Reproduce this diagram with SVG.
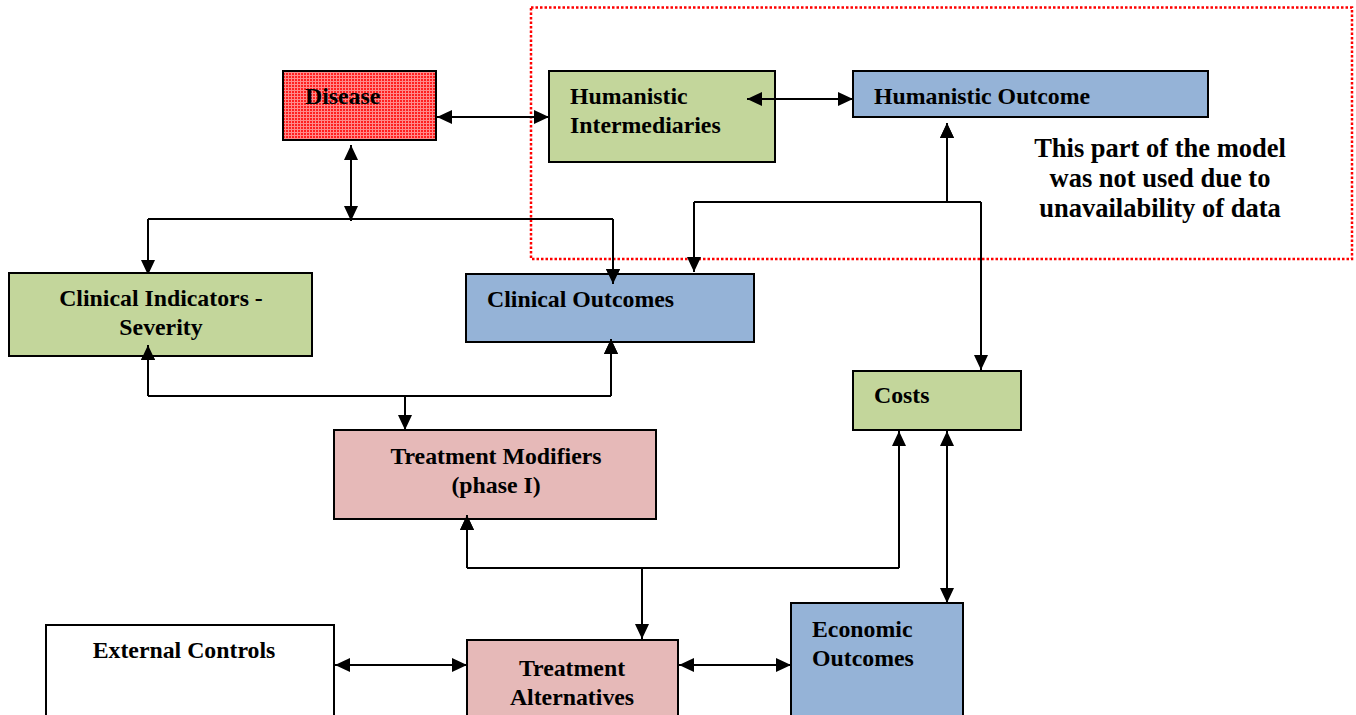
<svg xmlns="http://www.w3.org/2000/svg" width="1356" height="715" viewBox="0 0 1356 715">
  <style>
    .box { stroke: #000; stroke-width: 2; }
    .green { fill: #c3d69b; }
    .blue { fill: #95b3d7; }
    .pink { fill: #e6b9b8; }
    .white { fill: #ffffff; }
    .lbl { font-family: "Liberation Serif", "Times New Roman", serif; font-weight: bold; font-size: 23.8px; fill: #000; }
    .mid { text-anchor: middle; }
    .note { font-family: "Liberation Serif", "Times New Roman", serif; font-weight: bold; font-size: 26.5px; fill: #000; text-anchor: middle; }
    .wire { fill: none; stroke: #000; stroke-width: 2; }
    .one { marker-end: url(#tip); }
    .two { marker-start: url(#tip); marker-end: url(#tip); }
  </style>
  <defs>
    <marker id="tip" viewBox="0 0 15 14" refX="15" refY="7" markerWidth="15" markerHeight="14" markerUnits="userSpaceOnUse" orient="auto-start-reverse">
      <path d="M0,0 L15,7 L0,14 Z" fill="#000"/>
    </marker>
    <!-- red cross-hatched fill for the Disease node -->
    <pattern id="hatch" width="3" height="3" patternUnits="userSpaceOnUse">
      <rect width="3" height="3" fill="#ff1f1f"/>
      <rect width="3" height="1" fill="#ff8a8a"/>
      <rect width="1" height="3" fill="#ff8a8a"/>
    </pattern>
  </defs>

  <!-- dotted frame around the unused part of the model -->
  <rect x="531" y="7.5" width="821" height="251.5" fill="none" stroke="#ff0000" stroke-width="2.5" stroke-dasharray="2.5 2"/>
  <g id="note">
    <text class="note" x="1160" y="157">This part of the model</text>
    <text class="note" x="1160" y="187">was not used due to</text>
    <text class="note" x="1160" y="217">unavailability of data</text>
  </g>

  <!-- connectors -->
  <g id="connectors">
    <line class="wire two" x1="437" y1="117" x2="549" y2="117"/>

    <line class="wire two" x1="351" y1="145" x2="351" y2="221"/>
    <polyline class="wire one" points="148,219 148,275"/>
    <line class="wire" x1="148" y1="219" x2="613" y2="219"/>
    <polyline class="wire one" points="613,219 613,284"/>

    <polyline class="wire one" points="947,202 947,123"/>
    <line class="wire" x1="694" y1="202" x2="981" y2="202"/>
    <polyline class="wire one" points="694,202 694,272"/>
    <polyline class="wire one" points="981,202 981,370"/>

    <polyline class="wire one" points="148,396 148,345"/>
    <line class="wire" x1="148" y1="396" x2="611" y2="396"/>
    <polyline class="wire one" points="611,396 611,339"/>
    <polyline class="wire one" points="405,396 405,430"/>

    <polyline class="wire one" points="467,568 467,515"/>
    <line class="wire" x1="467" y1="568" x2="899" y2="568"/>
    <polyline class="wire one" points="899,568 899,431"/>
    <polyline class="wire one" points="642,568 642,639"/>

    <line class="wire two" x1="947" y1="431" x2="947" y2="603"/>
    <line class="wire two" x1="335" y1="665" x2="467" y2="665"/>
    <line class="wire two" x1="679" y1="665" x2="791" y2="665"/>
  </g>

  <g id="disease">
    <rect class="box" x="283" y="71" width="153" height="69" fill="url(#hatch)"/>
    <text class="lbl" x="305" y="104">Disease</text>
  </g>
  <g id="humanistic-intermediaries">
    <rect class="box green" x="549" y="71" width="226" height="91"/>
    <text class="lbl" x="570" y="104">Humanistic</text>
    <text class="lbl" x="570" y="133">Intermediaries</text>
  </g>
  <g id="humanistic-outcome">
    <rect class="box blue" x="853" y="71" width="355" height="46"/>
    <text class="lbl" x="874" y="104">Humanistic Outcome</text>
  </g>
  <g id="clinical-indicators">
    <rect class="box green" x="9" y="273" width="303" height="83"/>
    <text class="lbl mid" x="161" y="306">Clinical Indicators -</text>
    <text class="lbl mid" x="161" y="335">Severity</text>
  </g>
  <g id="clinical-outcomes">
    <rect class="box blue" x="466" y="274" width="288" height="68"/>
    <text class="lbl" x="487" y="307">Clinical Outcomes</text>
  </g>
  <g id="costs">
    <rect class="box green" x="853" y="371" width="168" height="59"/>
    <text class="lbl" x="874" y="403">Costs</text>
  </g>
  <g id="treatment-modifiers">
    <rect class="box pink" x="334" y="430" width="322" height="89"/>
    <text class="lbl mid" x="496" y="464">Treatment Modifiers</text>
    <text class="lbl mid" x="496" y="493">(phase I)</text>
  </g>
  <g id="external-controls">
    <rect class="box white" x="46" y="625" width="288" height="100"/>
    <text class="lbl mid" x="184" y="658">External Controls</text>
  </g>
  <g id="treatment-alternatives">
    <rect class="box pink" x="467" y="640" width="211" height="90"/>
    <text class="lbl mid" x="572" y="676">Treatment</text>
    <text class="lbl mid" x="572" y="705">Alternatives</text>
  </g>
  <g id="economic-outcomes">
    <rect class="box blue" x="791" y="603" width="172" height="125"/>
    <text class="lbl" x="812" y="637">Economic</text>
    <text class="lbl" x="812" y="666">Outcomes</text>
  </g>

  <!-- arrow segments that end inside boxes, drawn above the fills -->
  <g id="connectors-over">
    <line class="wire two" x1="747" y1="99" x2="853" y2="99"/>
    <polyline class="wire one" points="613,260 613,284"/>
    <polyline class="wire one" points="148,370 148,345"/>
    <polyline class="wire one" points="611,360 611,339"/>
    <polyline class="wire one" points="467,530 467,515"/>
    <polyline class="wire one" points="947,135 947,123"/>
  </g>
</svg>
